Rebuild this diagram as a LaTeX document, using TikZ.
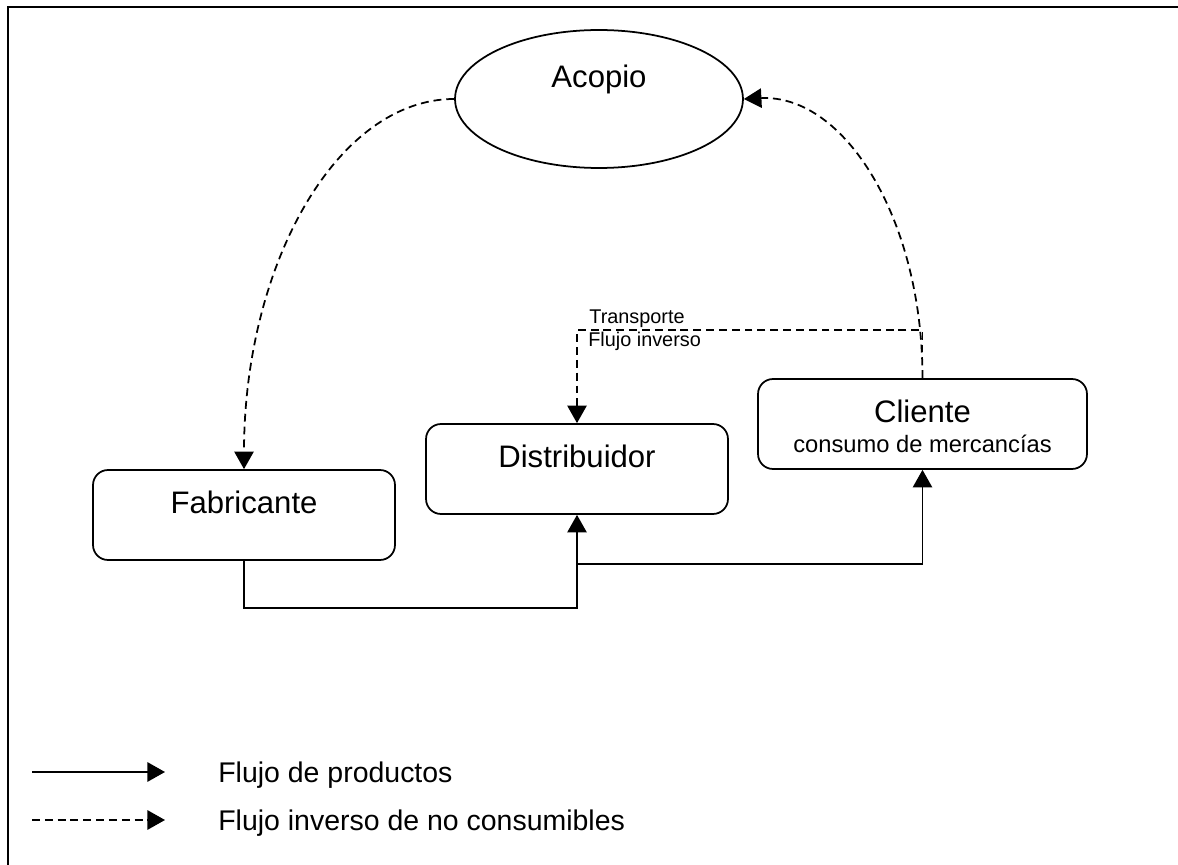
\documentclass[tikz,border=0pt]{standalone}
\usepackage{fontspec}
\setmainfont{Liberation Sans}
\usetikzlibrary{arrows.meta,shapes.geometric}
\begin{document}
\begin{tikzpicture}[x=0.02cm,y=-0.02cm,
  box/.style={draw, line width=1pt, rounded corners=0.3cm, minimum height=1.8cm, inner sep=0pt},
  bigtxt/.style={font=\fontsize{17.7}{20}\selectfont, inner sep=0pt, anchor=base},
  midtxt/.style={font=\fontsize{13.5}{16}\selectfont, inner sep=0pt, anchor=base},
  smalltxt/.style={font=\fontsize{11.3}{13}\selectfont, inner sep=0pt, anchor=base west},
  legtxt/.style={font=\fontsize{16.2}{19}\selectfont, inner sep=0pt, anchor=base west},
  flow/.style={line width=1pt, -{Triangle[length=10pt,width=11pt]}},
  inv/.style={flow, dash pattern=on 4.5pt off 2.8pt},
]
\useasboundingbox (0,0) rectangle (1178,865);
% frame
\draw[line width=1.1pt] (8,870) -- (8,7) -- (1185,7);

% nodes
\node[draw, ellipse, line width=1pt, minimum width=5.76cm, minimum height=2.76cm, inner sep=0pt] (acopio) at (599,99) {};
\node[bigtxt] (acopiotxt) at (599,88) {Acopio};

\node[box, minimum width=6.04cm] (fab) at (244,515) {};
\node[bigtxt] (fabtxt) at (244,513) {Fabricante};

\node[box, minimum width=6.04cm] (dist) at (577,469) {};
\node[bigtxt] (disttxt) at (577,467) {Distribuidor};

\node[box, minimum width=6.58cm] (cli) at (922.5,424) {};
\node[bigtxt] (clitxt) at (922.5,422) {Cliente};
\node[midtxt] (clisub) at (922.5,452) {consumo de mercancías};

\node[smalltxt] (tr1) at (589,323) {Transporte};
\node[smalltxt] (tr2) at (588,346) {Flujo inverso};

% product flow
\draw[flow] (fab.south) -- ++(0,47) -| (dist.south);
\path (dist.south) ++(0,49) coordinate (jn);
\draw[flow] (jn) -| (cli.south);

% inverse flow
\draw[inv] (cli.north) -- ++(0,-48) -| (dist.north);
\draw[inv] (cli.north) .. controls +(0,-160) and +(100,-5) .. (acopio.east);
\draw[inv] (acopio.west) .. controls +(-117,0) and +(0,-205) .. (fab.north);

% legend
\coordinate (l1a) at (32,772);
\coordinate (l1b) at (165,772);
\coordinate (l2a) at (32,820);
\coordinate (l2b) at (165,820);
\draw[flow] (l1a) -- (l1b);
\draw[inv] (l2a) -- (l2b);
\node[legtxt] (leg1) at (218,782) {Flujo de productos};
\node[legtxt] (leg2) at (218,830) {Flujo inverso de no consumibles};
\end{tikzpicture}
\end{document}
